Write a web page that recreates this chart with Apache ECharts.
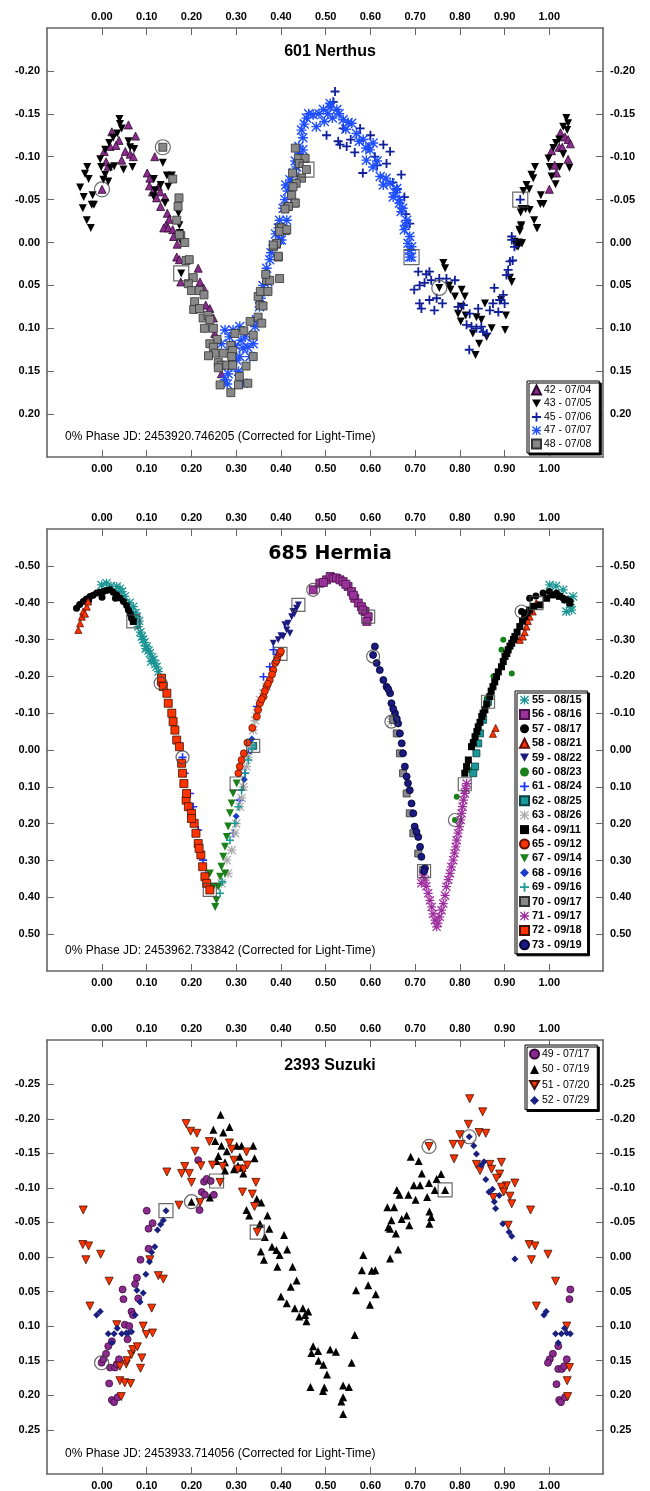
<!DOCTYPE html>
<html>
<head>
<meta charset="utf-8">
<script src="https://cdn.jsdelivr.net/npm/echarts@6/dist/echarts.min.js"></script>
<style>
  html, body { margin: 0; padding: 0; background: #fff; }
  #chart { width: 650px; height: 1491px; }
</style>
</head>
<body>
<div id="chart"></div>
<script>
// tick labels
const phaseTicks = [0, 0.1, 0.2, 0.3, 0.4, 0.5, 0.6, 0.7, 0.8, 0.9, 1.0];
const nerthusTicks = [-0.2, -0.15, -0.1, -0.05, 0, 0.05, 0.1, 0.15, 0.2];
const hermiaTicks = [-0.5, -0.4, -0.3, -0.2, -0.1, 0, 0.1, 0.2, 0.3, 0.4, 0.5];
const suzukiTicks = [-0.25, -0.2, -0.15, -0.1, -0.05, 0, 0.05, 0.1, 0.15, 0.2, 0.25];

const titles = ['601 Nerthus', '685 Hermia', '2393 Suzuki'];
const epochs = ['2453920.746205', '2453962.733842', '2453933.714056'];

// ---- 601 Nerthus  [phase, mag]
const n42 = [[0.000,-0.062],[0.059,-0.137],[0.075,-0.124],[0.022,-0.129],[0.038,-0.119],[0.052,-0.106],[0.044,-0.096],[0.014,-0.089],[0.063,-0.103],[0.005,-0.106],[0.018,-0.112],[0.031,-0.113],[0.009,-0.094],[0.070,-0.100],[0.118,-0.100],[0.101,-0.081],[0.107,-0.075],[0.126,-0.065],[0.106,-0.066],[0.113,-0.059],[0.130,-0.059],[0.141,-0.053],[0.122,-0.052],[0.131,-0.042],[0.146,-0.034],[0.150,-0.027],[0.143,-0.020],[0.138,-0.017],[0.148,-0.017],[0.158,-0.015],[0.160,-0.007],[0.168,0.002],[0.167,0.017],[0.173,0.020],[0.215,0.030],[0.176,0.046],[0.219,0.046],[0.227,0.053],[0.232,0.073],[0.241,0.077],[0.249,0.088],[0.252,0.106],[0.267,0.153],[1.025,-0.128],[1.035,-0.123],[1.042,-0.120],[1.047,-0.115],[1.022,-0.111],[1.029,-0.111],[1.005,-0.107],[1.042,-0.097],[1.012,-0.090],[1.016,-0.081],[1.000,-0.062]];
const n43 = [[-0.049,-0.064],[-0.041,-0.053],[-0.043,-0.040],[-0.034,-0.026],[-0.025,-0.017],[-0.023,-0.044],[-0.018,-0.044],[-0.021,-0.055],[-0.038,-0.080],[-0.033,-0.088],[-0.030,-0.074],[-0.004,-0.097],[-0.002,-0.088],[0.007,-0.079],[0.003,-0.073],[0.014,-0.071],[0.007,-0.108],[0.016,-0.116],[0.025,-0.122],[0.034,-0.127],[0.039,-0.144],[0.040,-0.138],[0.044,-0.133],[0.059,-0.118],[0.063,-0.111],[0.072,-0.109],[0.068,-0.088],[0.048,-0.085],[0.027,-0.089],[0.019,-0.087],[0.136,-0.093],[0.145,-0.078],[0.156,-0.078],[0.116,-0.074],[0.131,-0.067],[0.148,-0.065],[0.119,-0.061],[0.115,-0.054],[0.141,-0.046],[0.171,-0.034],[0.173,-0.020],[0.174,-0.011],[0.177,-0.001],[0.177,0.036],[1.038,-0.145],[1.042,-0.139],[1.031,-0.135],[1.040,-0.131],[1.015,-0.116],[1.022,-0.120],[1.009,-0.110],[0.998,-0.098],[1.031,-0.103],[1.001,-0.088],[1.023,-0.088],[1.045,-0.087],[0.968,-0.088],[0.960,-0.079],[0.964,-0.075],[1.005,-0.077],[1.014,-0.068],[0.949,-0.067],[0.955,-0.062],[0.942,-0.060],[0.981,-0.055],[0.980,-0.045],[0.987,-0.045],[0.938,-0.039],[0.947,-0.039],[0.956,-0.038],[0.936,-0.035],[0.966,-0.026],[0.973,-0.017],[0.937,-0.019],[0.934,-0.013],[0.932,0.000],[0.939,0.001],[0.926,0.004],[0.763,0.024],[0.767,0.030],[0.754,0.053],[0.776,0.050],[0.779,0.055],[0.789,0.063],[0.804,0.055],[0.811,0.063],[0.804,0.075],[0.796,0.083],[0.802,0.092],[0.813,0.085],[0.837,0.087],[0.848,0.090],[0.829,0.106],[0.843,0.118],[0.835,0.131],[0.860,0.110],[0.871,0.100],[0.856,0.071],[0.901,0.102],[0.903,0.085],[0.892,0.067],[0.916,0.046],[0.912,0.041],[0.922,-0.001],[0.937,0.001],[0.930,0.005],[0.937,-0.020],[0.933,-0.015],[0.972,-0.017]];
const n45 = [[0.521,-0.176],[0.517,-0.164],[0.502,-0.125],[0.528,-0.118],[0.539,-0.133],[0.532,-0.114],[0.547,-0.112],[0.577,-0.133],[0.583,-0.081],[0.595,-0.110],[0.610,-0.100],[0.629,-0.114],[0.644,-0.106],[0.636,-0.092],[0.669,-0.079],[0.676,-0.053],[0.679,-0.033],[0.688,-0.022],[0.556,-0.120],[0.565,-0.105],[0.600,-0.125],[0.615,-0.090],[0.650,-0.070],[0.660,-0.062],[0.707,0.034],[0.725,0.037],[0.732,0.034],[0.698,0.055],[0.710,0.050],[0.721,0.047],[0.736,0.044],[0.754,0.042],[0.770,0.042],[0.789,0.044],[0.710,0.071],[0.714,0.077],[0.732,0.067],[0.743,0.079],[0.761,0.071],[0.748,0.065],[0.808,0.073],[0.796,0.075],[0.822,0.083],[0.841,0.077],[0.815,0.096],[0.826,0.098],[0.848,0.098],[0.852,0.104],[0.860,0.106],[0.837,0.100],[0.821,0.125],[0.867,0.079],[0.874,0.071],[0.877,0.053],[0.889,0.067],[0.886,0.081],[0.900,0.071],[0.897,0.061],[0.904,0.038],[0.908,0.032],[0.912,0.022],[0.918,0.021],[0.916,-0.007],[0.916,-0.003],[0.922,0.005],[0.935,-0.050]];
const n47 = [[0.275,0.102],[0.282,0.153],[0.275,0.160],[0.293,0.102],[0.308,0.098],[0.311,0.114],[0.315,0.123],[0.326,0.122],[0.338,0.118],[0.331,0.133],[0.308,0.133],[0.301,0.137],[0.315,0.164],[0.267,0.118],[0.342,0.098],[0.345,0.090],[0.352,0.075],[0.363,0.057],[0.371,0.046],[0.368,0.030],[0.375,0.020],[0.383,0.003],[0.394,-0.017],[0.413,-0.026],[0.397,-0.003],[0.409,-0.050],[0.411,-0.067],[0.420,-0.073],[0.435,-0.088],[0.441,-0.104],[0.449,-0.122],[0.457,-0.145],[0.472,-0.149],[0.495,-0.155],[0.510,-0.158],[0.525,-0.155],[0.479,-0.135],[0.497,-0.141],[0.446,-0.131],[0.449,-0.108],[0.428,-0.081],[0.397,-0.026],[0.401,-0.003],[0.510,-0.162],[0.539,-0.143],[0.558,-0.139],[0.569,-0.127],[0.584,-0.120],[0.599,-0.108],[0.606,-0.116],[0.591,-0.096],[0.606,-0.088],[0.622,-0.077],[0.629,-0.067],[0.644,-0.069],[0.659,-0.063],[0.651,-0.053],[0.665,-0.050],[0.669,-0.036],[0.681,-0.026],[0.688,-0.007],[0.692,0.005],[0.688,0.017],[0.665,-0.046],[0.676,-0.015],[0.684,0.001],[0.688,0.009],[0.692,0.017],[0.285,0.110],[0.298,0.120],[0.320,0.110],[0.290,0.145],[0.305,0.150],[0.280,0.165],[0.355,0.065],[0.360,0.050],[0.378,0.012],[0.388,-0.010],[0.405,-0.040],[0.415,-0.060],[0.425,-0.070],[0.432,-0.095],[0.440,-0.112],[0.452,-0.138],[0.462,-0.150],[0.485,-0.150],[0.505,-0.150],[0.515,-0.145],[0.530,-0.150],[0.545,-0.132],[0.550,-0.140],[0.575,-0.118],[0.590,-0.110],[0.615,-0.095],[0.635,-0.075],[0.655,-0.058],[0.672,-0.040],[0.678,-0.020]];
const n48 = [[0.136,-0.111],[0.158,-0.074],[0.172,-0.052],[0.170,-0.042],[0.167,-0.026],[0.176,-0.008],[0.185,0.000],[0.173,-0.009],[0.188,0.021],[0.195,0.020],[0.204,0.041],[0.193,0.048],[0.200,0.056],[0.217,0.056],[0.228,0.061],[0.207,0.069],[0.205,0.078],[0.218,0.077],[0.226,0.088],[0.237,0.085],[0.241,0.090],[0.229,0.100],[0.249,0.100],[0.257,0.113],[0.241,0.118],[0.249,0.122],[0.253,0.129],[0.238,0.132],[0.260,0.140],[0.271,0.129],[0.288,0.120],[0.292,0.126],[0.290,0.133],[0.267,0.143],[0.279,0.143],[0.292,0.143],[0.260,0.146],[0.297,0.106],[0.317,0.103],[0.331,0.092],[0.338,0.108],[0.322,0.144],[0.307,0.156],[0.305,0.166],[0.326,0.164],[0.288,0.175],[0.264,0.166],[0.338,0.133],[0.349,0.087],[0.357,0.094],[0.353,0.073],[0.360,0.074],[0.349,0.063],[0.354,0.057],[0.371,0.057],[0.368,0.044],[0.375,0.044],[0.366,0.037],[0.397,0.042],[0.394,0.017],[0.383,0.005],[0.390,0.002],[0.411,-0.014],[0.397,-0.017],[0.415,-0.042],[0.431,-0.046],[0.432,-0.110],[0.439,-0.098],[0.454,-0.098],[0.441,-0.092],[0.426,-0.081],[0.457,-0.085],[0.446,-0.075],[0.434,-0.069],[0.427,-0.065],[0.424,-0.055],[0.432,-0.046],[0.417,-0.042],[0.409,-0.039],[0.401,-0.017],[0.397,-0.013],[0.413,-0.015],[0.390,0.001],[0.383,0.003],[0.394,0.016]];

// ---- 685 Hermia
const h55 = [[-0.001,-0.448],[0.010,-0.453],[0.020,-0.445],[0.033,-0.444],[0.045,-0.430],[0.051,-0.417],[0.062,-0.400],[0.070,-0.389],[0.075,-0.372],[0.078,-0.362],[0.081,-0.335],[0.086,-0.320],[0.089,-0.308],[0.095,-0.292],[0.100,-0.281],[0.104,-0.270],[0.107,-0.263],[0.112,-0.252],[0.115,-0.245],[0.119,-0.234],[0.122,-0.226],[0.126,-0.213],[0.092,-0.300],[0.098,-0.275],[0.083,-0.350],[0.110,-0.240],[0.066,-0.375],[0.040,-0.438],[1.001,-0.448],[1.015,-0.445],[1.031,-0.435],[1.042,-0.408],[1.050,-0.380],[1.038,-0.376],[1.053,-0.417],[1.047,-0.395]];
const h56 = [[0.472,-0.435],[0.487,-0.453],[0.502,-0.462],[0.510,-0.471],[0.517,-0.467],[0.524,-0.467],[0.532,-0.462],[0.539,-0.457],[0.550,-0.444],[0.558,-0.430],[0.565,-0.412],[0.573,-0.399],[0.580,-0.389],[0.588,-0.376],[0.595,-0.362],[0.592,-0.349],[0.495,-0.455],[0.545,-0.450],[0.562,-0.420],[0.583,-0.380]];
const h57 = [[-0.057,-0.385],[-0.050,-0.395],[-0.042,-0.403],[-0.035,-0.410],[-0.027,-0.417],[-0.020,-0.420],[-0.012,-0.426],[-0.005,-0.428],[0.003,-0.430],[0.010,-0.433],[0.018,-0.435],[0.025,-0.428],[0.033,-0.421],[0.040,-0.413],[0.048,-0.403],[0.055,-0.392],[0.059,-0.380],[0.063,-0.370],[0.066,-0.358],[-0.030,-0.405],[0.000,-0.415],[0.030,-0.412],[0.938,-0.376],[0.956,-0.412],[0.970,-0.418],[0.986,-0.426],[1.000,-0.430],[1.016,-0.426],[1.031,-0.412],[1.045,-0.405]];
const h58 = [[-0.053,-0.326],[-0.049,-0.344],[-0.045,-0.362],[-0.042,-0.376],[-0.034,-0.389],[-0.031,-0.403],[-0.038,-0.370],[0.934,-0.299],[0.941,-0.308],[0.949,-0.335],[0.956,-0.362],[0.963,-0.376],[0.971,-0.399],[0.945,-0.320],[0.952,-0.350],[0.874,-0.044],[0.880,-0.060]];
const h59 = [[0.383,-0.290],[0.394,-0.299],[0.405,-0.308],[0.413,-0.326],[0.416,-0.344],[0.424,-0.362],[0.427,-0.376],[0.435,-0.385],[0.439,-0.394],[0.420,-0.317],[0.409,-0.340],[0.400,-0.310],[0.430,-0.370]];
const h60 = [[0.793,0.127],[0.789,0.190],[0.822,0.054],[0.893,-0.272],[0.897,-0.299],[0.916,-0.208],[0.875,-0.200],[0.860,-0.140]];
const h61 = [[0.180,0.020],[0.185,0.063],[0.197,0.118],[0.204,0.154],[0.215,0.217],[0.226,0.299],[0.232,0.340],[0.346,-0.118],[0.361,-0.199],[0.375,-0.226],[0.383,-0.272],[0.293,0.226],[0.308,0.136],[0.320,0.063],[0.327,0.009],[0.390,-0.260]];
const h62 = [[0.338,-0.011],[0.863,-0.131],[0.852,-0.082],[0.845,-0.045],[0.841,-0.018],[0.837,0.009],[0.834,0.045],[0.830,0.063]];
const h63 = [[0.279,0.299],[0.290,0.272],[0.297,0.226],[0.308,0.154],[0.316,0.100],[0.323,0.045],[0.331,-0.009],[0.338,-0.054],[0.346,-0.100],[0.353,-0.136],[0.361,-0.154],[0.368,-0.172],[0.282,0.335],[0.267,0.362],[0.300,0.200],[0.312,0.130],[0.327,0.020],[0.342,-0.080],[0.647,-0.077]];
const h64 = [[0.811,0.063],[0.819,0.027],[0.826,-0.009],[0.834,-0.036],[0.841,-0.063],[0.849,-0.091],[0.856,-0.109],[0.867,-0.145],[0.874,-0.172],[0.882,-0.199],[0.893,-0.226],[0.901,-0.254],[0.908,-0.272],[0.916,-0.290],[0.923,-0.308],[0.934,-0.335],[0.945,-0.362],[0.956,-0.380],[0.979,-0.394],[0.994,-0.412],[1.009,-0.421],[1.023,-0.417],[1.035,-0.408],[1.046,-0.399],[0.815,0.045],[0.830,-0.020],[0.838,-0.050],[0.845,-0.075],[0.852,-0.100],[0.860,-0.125],[0.870,-0.160],[0.878,-0.185],[0.886,-0.212],[0.897,-0.240],[0.905,-0.262],[0.912,-0.282],[0.920,-0.300],[0.928,-0.320],[0.940,-0.350],[0.950,-0.372],[0.965,-0.390],[0.070,-0.349]];
const h65 = [[0.131,-0.181],[0.305,0.063],[0.308,0.045],[0.312,0.027],[0.317,0.009],[0.346,-0.091],[0.349,-0.109],[0.353,-0.127],[0.361,-0.145],[0.368,-0.172],[0.375,-0.190],[0.383,-0.217],[0.387,-0.236],[0.392,-0.249],[0.398,-0.263],[0.400,-0.268],[0.357,-0.138],[0.364,-0.160],[0.371,-0.180],[0.380,-0.205],[0.390,-0.242],[0.336,-0.060],[0.325,-0.020]];
const h67 = [[0.253,0.426],[0.256,0.408],[0.249,0.371],[0.260,0.371],[0.264,0.344],[0.267,0.317],[0.271,0.290],[0.275,0.263],[0.279,0.236],[0.282,0.208],[0.286,0.172],[0.290,0.145],[0.293,0.118],[0.301,0.091],[0.241,0.335],[0.275,0.335]];
const h68 = [[0.300,0.180],[0.318,0.080],[0.335,-0.030]];
const h69 = [[0.264,0.389],[0.269,0.358],[0.286,0.245],[0.297,0.199],[0.305,0.154],[0.312,0.109],[0.320,0.063],[0.327,0.027],[0.335,-0.004]];
const h70 = [[0.651,-0.082],[0.659,-0.045],[0.666,0.009],[0.673,0.063],[0.681,0.118],[0.688,0.172],[0.696,0.226],[0.707,0.281],[0.718,0.326]];
const h71 = [[0.722,0.353],[0.729,0.389],[0.737,0.426],[0.744,0.462],[0.748,0.480],[0.755,0.453],[0.763,0.417],[0.770,0.371],[0.778,0.335],[0.785,0.299],[0.791,0.263],[0.796,0.226],[0.802,0.190],[0.806,0.154],[0.811,0.118],[0.815,0.091],[0.714,0.362],[0.718,0.340],[0.725,0.370],[0.733,0.408],[0.740,0.445],[0.751,0.470],[0.759,0.435],[0.767,0.395],[0.774,0.352],[0.781,0.317],[0.788,0.280],[0.793,0.245],[0.799,0.208],[0.804,0.172],[0.808,0.136],[0.813,0.105]];
const h72 = [[0.133,-0.195],[0.137,-0.172],[0.145,-0.154],[0.148,-0.127],[0.156,-0.100],[0.159,-0.077],[0.163,-0.054],[0.167,-0.027],[0.173,-0.009],[0.178,0.036],[0.180,0.063],[0.183,0.091],[0.188,0.136],[0.193,0.154],[0.200,0.172],[0.206,0.199],[0.210,0.226],[0.215,0.254],[0.221,0.285],[0.225,0.317],[0.230,0.344],[0.234,0.362],[0.241,0.380],[0.189,0.118],[0.200,0.186],[0.217,0.267]];
const h73 = [[0.610,-0.281],[0.606,-0.258],[0.614,-0.236],[0.621,-0.217],[0.629,-0.190],[0.636,-0.172],[0.644,-0.154],[0.647,-0.127],[0.655,-0.100],[0.662,-0.072],[0.666,-0.045],[0.670,-0.018],[0.673,0.009],[0.677,0.045],[0.681,0.072],[0.688,0.109],[0.692,0.145],[0.696,0.172],[0.699,0.208],[0.707,0.236],[0.711,0.263],[0.714,0.290],[0.722,0.321],[0.720,0.329],[0.640,-0.165],[0.651,-0.112],[0.659,-0.085],[0.684,0.090],[0.703,0.222]];

// ---- 2393 Suzuki
const s49 = [[-0.001,0.153],[0.003,0.148],[0.009,0.140],[0.014,0.129],[0.022,0.122],[0.018,0.160],[0.029,0.160],[0.033,0.155],[0.038,0.148],[0.016,0.183],[0.022,0.207],[0.027,0.210],[0.035,0.203],[0.051,0.098],[0.057,0.119],[0.061,0.100],[0.066,0.079],[0.069,0.084],[0.048,0.061],[0.046,0.047],[0.074,0.039],[0.078,0.030],[0.081,0.060],[0.086,0.004],[0.104,-0.012],[0.104,-0.041],[0.113,-0.049],[0.100,-0.067],[0.218,-0.068],[0.223,-0.094],[0.230,-0.090],[0.228,-0.109],[0.234,-0.113],[0.243,-0.110],[0.215,-0.140],[0.250,-0.090],[1.047,0.047],[1.045,0.061],[1.008,0.140],[1.001,0.148],[0.997,0.153],[1.020,0.162],[1.028,0.162],[1.033,0.158],[1.039,0.148],[1.016,0.184],[1.022,0.207],[1.026,0.210],[1.035,0.203],[1.020,0.129]];
const s50 = [[0.200,-0.080],[0.241,-0.086],[0.249,-0.184],[0.253,-0.168],[0.265,-0.206],[0.271,-0.180],[0.285,-0.188],[0.267,-0.161],[0.279,-0.153],[0.260,-0.146],[0.256,-0.139],[0.275,-0.137],[0.301,-0.161],[0.312,-0.161],[0.338,-0.161],[0.308,-0.145],[0.341,-0.143],[0.304,-0.132],[0.314,-0.129],[0.316,-0.121],[0.295,-0.127],[0.275,-0.125],[0.346,-0.084],[0.356,-0.079],[0.323,-0.068],[0.329,-0.060],[0.370,-0.060],[0.374,-0.041],[0.353,-0.048],[0.364,-0.029],[0.355,-0.008],[0.362,0.004],[0.380,-0.015],[0.390,-0.010],[0.397,-0.003],[0.392,0.014],[0.414,-0.011],[0.407,-0.032],[0.426,0.014],[0.435,0.034],[0.422,0.043],[0.400,0.057],[0.413,0.067],[0.431,0.074],[0.449,0.074],[0.454,0.084],[0.461,0.079],[0.441,0.086],[0.457,0.093],[0.472,0.129],[0.468,0.139],[0.483,0.136],[0.484,0.150],[0.495,0.156],[0.503,0.170],[0.466,0.188],[0.494,0.194],[0.497,0.189],[0.510,0.134],[0.523,0.137],[0.558,0.153],[0.539,0.186],[0.552,0.188],[0.539,0.203],[0.535,0.209],[0.539,0.227],[0.565,0.113],[0.568,0.048],[0.595,0.041],[0.612,0.054],[0.599,0.069],[0.581,0.019],[0.603,0.020],[0.611,0.019],[0.584,-0.003],[0.644,0.002],[0.662,-0.011],[0.644,-0.041],[0.640,-0.043],[0.657,-0.034],[0.647,-0.053],[0.670,-0.055],[0.687,-0.046],[0.681,-0.060],[0.638,-0.072],[0.653,-0.072],[0.659,-0.097],[0.665,-0.090],[0.685,-0.090],[0.701,-0.083],[0.697,-0.104],[0.711,-0.104],[0.727,-0.087],[0.732,-0.066],[0.736,-0.058],[0.732,-0.048],[0.731,-0.107],[0.744,-0.097],[0.748,-0.113],[0.758,-0.120],[0.715,-0.121],[0.690,-0.145],[0.708,-0.139],[0.767,-0.097]];
const s51 = [[-0.042,-0.068],[-0.043,-0.018],[-0.030,-0.016],[-0.036,0.004],[-0.003,-0.004],[0.016,0.035],[-0.027,0.071],[0.033,0.098],[0.040,0.158],[0.054,0.155],[0.056,0.150],[0.066,0.141],[0.069,0.134],[0.079,0.130],[0.089,0.146],[0.086,0.161],[0.040,0.179],[0.051,0.182],[0.064,0.183],[0.043,0.202],[0.092,0.100],[0.099,0.112],[0.113,0.110],[0.111,0.074],[0.107,0.004],[0.126,0.027],[0.137,0.032],[0.145,-0.123],[0.172,-0.075],[0.178,-0.121],[0.185,-0.131],[0.195,-0.121],[0.200,-0.108],[0.188,-0.193],[0.198,-0.182],[0.212,-0.179],[0.208,-0.153],[0.221,-0.132],[0.219,-0.079],[0.240,-0.167],[0.247,-0.133],[0.264,-0.108],[0.270,-0.131],[0.285,-0.165],[0.290,-0.156],[0.295,-0.140],[0.304,-0.127],[0.317,-0.127],[0.325,-0.133],[0.323,-0.152],[0.314,-0.094],[0.336,-0.091],[0.344,-0.108],[0.341,-0.073],[0.347,-0.036],[0.731,-0.160],[0.822,-0.229],[0.851,-0.210],[0.819,-0.192],[0.800,-0.177],[0.843,-0.180],[0.858,-0.179],[0.785,-0.163],[0.803,-0.163],[0.787,-0.142],[0.837,-0.134],[0.867,-0.134],[0.893,-0.137],[0.845,-0.125],[0.871,-0.127],[0.889,-0.120],[0.882,-0.114],[0.923,-0.107],[0.904,-0.103],[0.893,-0.101],[0.898,-0.094],[0.875,-0.086],[0.912,-0.088],[0.916,-0.077],[0.958,-0.068],[0.908,-0.046],[0.955,-0.018],[0.968,-0.016],[0.960,0.004],[0.997,-0.004],[1.014,0.035],[0.971,0.071],[1.039,0.100],[1.045,0.160],[1.040,0.179],[1.041,0.202]];
const s52 = [[0.143,-0.067],[0.137,-0.053],[0.131,-0.047],[0.124,-0.039],[0.118,-0.015],[0.111,-0.007],[0.106,0.007],[0.098,0.025],[0.092,0.052],[0.078,0.048],[0.085,0.065],[0.074,0.084],[0.059,0.110],[0.066,0.108],[0.054,0.110],[0.044,0.111],[0.034,0.103],[0.027,0.111],[0.014,0.111],[0.022,0.124],[-0.004,0.079],[-0.012,0.084],[0.821,-0.174],[0.831,-0.161],[0.837,-0.149],[0.848,-0.133],[0.854,-0.138],[0.858,-0.112],[0.865,-0.094],[0.873,-0.098],[0.877,-0.080],[0.888,-0.089],[0.880,-0.070],[0.896,-0.048],[0.910,-0.036],[0.916,-0.030],[0.923,0.003],[0.993,0.079],[0.988,0.084],[1.014,0.111],[1.027,0.111],[1.034,0.103],[1.039,0.110],[1.047,0.111],[1.020,0.124]];

// first / last point marks of each session
const nerthusRings = [[0.000,-0.062],[0.754,0.053],[0.136,-0.111]];
const nerthusBoxes = [[0.177,0.036],[0.935,-0.050],[0.692,0.017],[0.457,-0.085]];
const hermiaRings = [[0.131,-0.181],[0.180,0.020],[0.472,-0.435],[0.606,-0.254],[0.647,-0.077],[0.789,0.190],[0.938,-0.376]];
const hermiaBoxes = [[0.070,-0.349],[0.241,0.380],[0.301,0.091],[0.338,-0.011],[0.399,-0.261],[0.439,-0.394],[0.595,-0.362],[0.720,0.329],[0.811,0.093],[0.863,-0.131],[0.971,-0.399]];
const suzukiRings = [[-0.001,0.153],[0.200,-0.080],[0.731,-0.160],[0.821,-0.174]];
const suzukiBoxes = [[0.143,-0.067],[0.256,-0.110],[0.347,-0.036],[0.767,-0.097]];

const TRI_DOWN = 'path://M0,0L10,0L5,9Z';
const PLUS = 'path://M4,0H6V4H10V6H6V10H4V6H0V4H4Z';
const STAR = 'path://M4.3,0H5.7V10H4.3Z M0,4.3H10V5.7H0Z M1,0L10,9L9,10L0,1Z M9,0L10,1L1,10L0,9Z';
const FONT = '"Liberation Sans", Arial, sans-serif';

const frame = { color: '#666', width: 1.6 };
const grids = [
  { left: 47, right: 47, top: 28, height: 429 },
  { left: 47, right: 47, top: 529, height: 442 },
  { left: 47, right: 47, top: 1040, height: 437 }
];
const yRanges = [[-0.25, 0.25, nerthusTicks], [-0.6, 0.6, hermiaTicks], [-0.314, 0.314, suzukiTicks]];

const xAxis = [];
const yAxis = [];
grids.forEach((g, i) => {
  ['bottom', 'top'].forEach(pos => {
    xAxis.push({
      gridIndex: i, type: 'value', position: pos, min: -0.123, max: 1.12,
      axisLine: { show: true, onZero: false, lineStyle: frame },
      axisTick: { show: true, inside: true, length: 7, customValues: phaseTicks, lineStyle: { color: '#666', width: 1 } },
      axisLabel: { customValues: phaseTicks, formatter: v => v.toFixed(2), color: '#000', fontWeight: 'bold', fontSize: 11, fontFamily: FONT, margin: 6 },
      splitLine: { show: false }
    });
  });
  ['left', 'right'].forEach(pos => {
    yAxis.push({
      gridIndex: i, type: 'value', position: pos, inverse: true,
      min: yRanges[i][0], max: yRanges[i][1],
      axisLine: { show: true, onZero: false, lineStyle: frame },
      axisTick: { show: true, inside: true, length: 7, customValues: yRanges[i][2], lineStyle: { color: '#666', width: 1 } },
      axisLabel: { customValues: yRanges[i][2], formatter: v => v.toFixed(2), color: '#000', fontWeight: 'bold', fontSize: 11, fontFamily: FONT, margin: 7 },
      splitLine: { show: false }
    });
  });
});

const series = [];
function add(gi, name, data, symbol, color, border, size) {
  series.push({
    name: name, type: 'scatter', xAxisIndex: gi * 2, yAxisIndex: gi * 2,
    data: data, symbol: symbol, symbolSize: size,
    itemStyle: { color: color, borderColor: border, borderWidth: border ? 0.8 : 0, opacity: 1 },
    emphasis: { disabled: true }, animation: false
  });
}
function marks(gi, data, symbol, size) {
  series.push({
    type: 'scatter', xAxisIndex: gi * 2, yAxisIndex: gi * 2, data: data,
    symbol: symbol, symbolSize: size, silent: true, animation: false,
    itemStyle: { color: 'rgba(0,0,0,0)', borderColor: '#444', borderWidth: 1.2 }
  });
}

// panel 1
add(0, '42 - 07/04', n42, 'triangle', '#8b2b8e', '#2a0a2a', 8);
add(0, '43 - 07/05', n43, TRI_DOWN, '#000', null, 8);
add(0, '45 - 07/06', n45, PLUS, '#11209a', null, 9);
add(0, '47 - 07/07', n47, STAR, '#1f4fff', null, 10);
add(0, '48 - 07/08', n48, 'rect', '#888', '#333', 8);
marks(0, nerthusRings, 'circle', 15);
marks(0, nerthusBoxes, 'rect', 15);

// panel 2
add(1, '55 - 08/15', h55, STAR, '#1a9494', null, 9);
add(1, '56 - 08/16', h56, 'rect', '#993399', '#4a104a', 8);
add(1, '57 - 08/17', h57, 'circle', '#000', null, 7);
add(1, '58 - 08/21', h58, 'triangle', '#ff3300', '#601000', 7);
add(1, '59 - 08/22', h59, TRI_DOWN, '#1a1a80', null, 7);
add(1, '60 - 08/23', h60, 'circle', '#1a801a', null, 6);
add(1, '61 - 08/24', h61, PLUS, '#1a33ff', null, 8);
add(1, '62 - 08/25', h62, 'rect', '#1a9999', '#0a4040', 7);
add(1, '63 - 08/26', h63, STAR, '#aaaaaa', null, 9);
add(1, '64 - 09/11', h64, 'rect', '#000', null, 7);
add(1, '65 - 09/12', h65, 'circle', '#ff3300', '#601000', 7);
add(1, '67 - 09/14', h67, TRI_DOWN, '#1a801a', null, 8);
add(1, '68 - 09/16', h68, 'diamond', '#1a3ccc', null, 7);
add(1, '69 - 09/16', h69, PLUS, '#1a9999', null, 8);
add(1, '70 - 09/17', h70, 'rect', '#888', '#333', 7);
add(1, '71 - 09/17', h71, STAR, '#a030a0', null, 9);
add(1, '72 - 09/18', h72, 'rect', '#ff3300', '#401000', 8);
add(1, '73 - 09/19', h73, 'circle', '#1a1a80', '#000030', 7);
marks(1, hermiaRings, 'circle', 13);
marks(1, hermiaBoxes, 'rect', 13);

// panel 3
add(2, '49 - 07/17', s49, 'circle', '#8b2b8e', '#3a0a3a', 7);
add(2, '50 - 07/19', s50, 'triangle', '#000', null, 8);
add(2, '51 - 07/20', s51, TRI_DOWN, '#ff3300', '#401000', 8);
add(2, '52 - 07/29', s52, 'diamond', '#1a2080', null, 7);
marks(2, suzukiRings, 'circle', 14);
marks(2, suzukiBoxes, 'rect', 14);

function legendBox(names, left, top, gap, bold, fs, padRight) {
  return {
    data: names, orient: 'vertical', left: left, top: top,
    itemWidth: 9, itemHeight: 9, itemGap: gap, padding: [3, padRight, 3, 4],
    backgroundColor: '#fff', borderColor: '#000', borderWidth: 1,
    shadowColor: '#000', shadowOffsetX: 2, shadowOffsetY: 2, shadowBlur: 0,
    selectedMode: false,
    textStyle: { fontSize: fs, lineHeight: 12, fontFamily: FONT, color: '#000', fontWeight: bold ? 'bold' : 'normal', padding: [0, 0, 0, -2] }
  };
}
const names = series.filter(s => s.name).map(s => s.name);

const chart = echarts.init(document.getElementById('chart'), null, { renderer: 'canvas' });
chart.setOption({
  backgroundColor: '#fff',
  animation: false,
  grid: grids,
  xAxis: xAxis,
  yAxis: yAxis,
  title: [
    { text: titles[0], left: 325, top: 39, textAlign: 'center', textStyle: { fontSize: 16, fontWeight: 'bold', fontFamily: FONT, color: '#000' } },
    { text: titles[1], left: 325, top: 540, textAlign: 'center', textStyle: { fontSize: 19, fontWeight: 'bold', fontFamily: '"DejaVu Sans", Verdana, sans-serif', color: '#000' } },
    { text: titles[2], left: 325, top: 1053, textAlign: 'center', textStyle: { fontSize: 16, fontWeight: 'bold', fontFamily: FONT, color: '#000' } },
    { text: '0% Phase JD: ' + epochs[0] + ' (Corrected for Light-Time)', left: 60, top: 426, textStyle: { fontSize: 12, fontWeight: 'normal', fontFamily: FONT, color: '#000' } },
    { text: '0% Phase JD: ' + epochs[1] + ' (Corrected for Light-Time)', left: 60, top: 940, textStyle: { fontSize: 12, fontWeight: 'normal', fontFamily: FONT, color: '#000' } },
    { text: '0% Phase JD: ' + epochs[2] + ' (Corrected for Light-Time)', left: 60, top: 1443, textStyle: { fontSize: 12, fontWeight: 'normal', fontFamily: FONT, color: '#000' } }
  ],
  legend: [
    legendBox(names.slice(0, 5), 527, 381, 1.5, false, 10.5, 8),
    legendBox(names.slice(5, 23), 515, 691, 2.4, true, 11, 6),
    legendBox(names.slice(23), 525, 1045, 3.5, false, 10.5, 8)
  ],
  series: series
});
</script>
</body>
</html>
